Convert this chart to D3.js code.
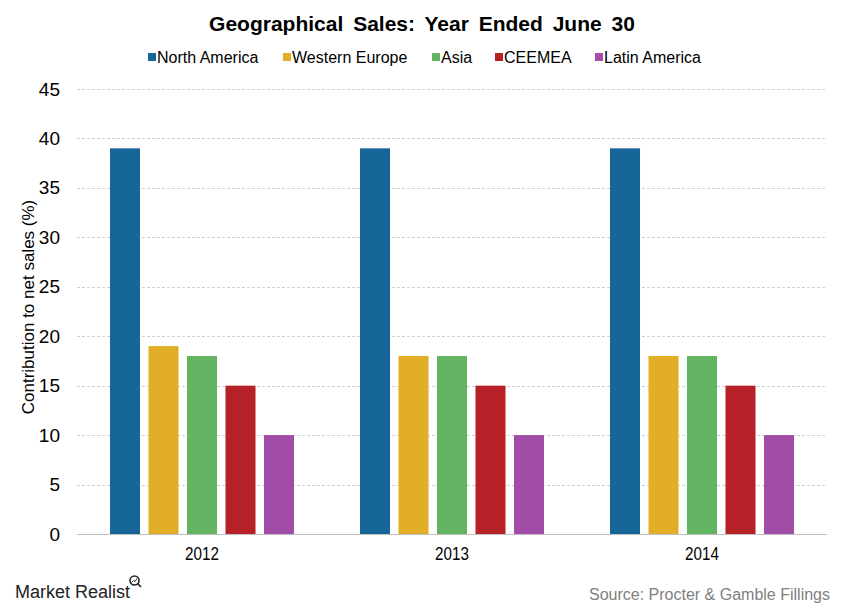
<!DOCTYPE html>
<html><head><meta charset="utf-8">
<script src="https://d3js.org/d3.v7.min.js"></script>
<style>body{margin:0;background:#fff}</style>
</head><body>
<script>
const years = ["2012", "2013", "2014"];
const regions = ["North America", "Western Europe", "Asia", "CEEMEA", "Latin America"];
const northAmerica = [39, 39, 39];
const westernEurope = [19, 18, 18];
const asia = [18, 18, 18];
const ceemea = [15, 15, 15];
const latinAmerica = [10, 10, 10];
const colors = ["#17669a", "#e2ae28", "#63b463", "#b52126", "#a14ca6"];
const yTicks = [0, 5, 10, 15, 20, 25, 30, 35, 40, 45];
const seriesValues = [northAmerica, westernEurope, asia, ceemea, latinAmerica];

const W = 841, H = 611;
const sans = "Arial,'Liberation Sans',sans-serif";
const svg = d3.select("body").append("svg").attr("width", W).attr("height", H);

const y = d3.scaleLinear().domain([0, 45]).range([534, 89]);
const x0 = d3.scaleBand().domain(years).range([77, 827]).padding(0);
const x1 = d3.scaleBand().domain(regions).range([33, 217]).paddingInner(0.22).paddingOuter(0);
const color = d3.scaleOrdinal().domain(regions).range(colors);

// gridlines
svg.append("g").selectAll("line").data(yTicks.filter(d => d > 0)).join("line")
  .attr("x1", 77).attr("x2", 827)
  .attr("y1", d => Math.round(y(d)) + 0.5).attr("y2", d => Math.round(y(d)) + 0.5)
  .attr("stroke", "#d0d0d0").attr("stroke-dasharray", "3,2");

// y axis labels
const yAxis = d3.axisLeft(y).tickValues(yTicks).tickSize(0).tickPadding(0);
const gy = svg.append("g").attr("transform", "translate(60,0)").call(yAxis);
gy.select(".domain").remove();
gy.selectAll("text").attr("font-family", sans).attr("font-size", 19).attr("fill", "#000");

// bars
const groups = svg.append("g").selectAll("g").data(years).join("g")
  .attr("transform", d => `translate(${x0(d)},0)`);
groups.selectAll("rect").data((yr, i) => regions.map((r, k) => ({r, v: seriesValues[k][i]}))).join("rect")
  .attr("x", d => x1(d.r)).attr("width", x1.bandwidth())
  .attr("y", d => y(d.v)).attr("height", d => y(0) - y(d.v))
  .attr("fill", d => color(d.r));

// baseline
svg.append("line").attr("x1", 77).attr("x2", 827).attr("y1", 534.5).attr("y2", 534.5)
  .attr("stroke", "#bfbfbf");

// x axis labels
const xAxis = d3.axisBottom(x0).tickSize(0).tickPadding(0);
const gx = svg.append("g").attr("transform", "translate(0,547)").call(xAxis);
gx.select(".domain").remove();
gx.selectAll("text").attr("font-family", sans).attr("font-size", 19).attr("fill", "#000")
  .attr("transform", "scale(0.8,1)");

// title
svg.append("text").attr("x", 422).attr("y", 31).attr("text-anchor", "middle")
  .attr("font-family", sans).attr("font-weight", "bold").attr("font-size", 21)
  .attr("word-spacing", 4)
  .text("Geographical Sales: Year Ended June 30");

// legend
const legendX = [148, 283, 432, 495, 595];
const lg = svg.append("g").selectAll("g").data(regions).join("g")
  .attr("transform", (d, i) => `translate(${legendX[i]},57)`);
lg.append("rect").attr("x", 0).attr("y", -4).attr("width", 8).attr("height", 8).attr("fill", d => color(d));
lg.append("text").attr("x", 9).attr("y", 6).attr("font-family", sans).attr("font-size", 16)
  .attr("fill", "#000").text(d => d);

// y axis title
svg.append("text").attr("transform", "translate(34,307) rotate(-90)").attr("text-anchor", "middle")
  .attr("font-family", sans).attr("font-size", 17).attr("fill", "#000")
  .text("Contribution to net sales (%)");

// footer
svg.append("text").attr("x", 15).attr("y", 598).attr("font-family", sans)
  .attr("font-size", 18).attr("fill", "#222").text("Market Realist");
const icon = svg.append("g").attr("stroke", "#222").attr("fill", "none").attr("stroke-width", 1.6);
icon.append("circle").attr("cx", 134.5).attr("cy", 580.5).attr("r", 4.5);
icon.append("line").attr("x1", 137.8).attr("y1", 583.8).attr("x2", 141).attr("y2", 587);
icon.append("polyline").attr("points", "131.5,582.5 133.5,580.5 135,581.5 137,578.5").attr("stroke-width", 1);
svg.append("text").attr("x", 830).attr("y", 600).attr("text-anchor", "end").attr("font-family", sans)
  .attr("font-size", 16).attr("fill", "#808080").text("Source: Procter & Gamble Fillings");
</script>
</body></html>
